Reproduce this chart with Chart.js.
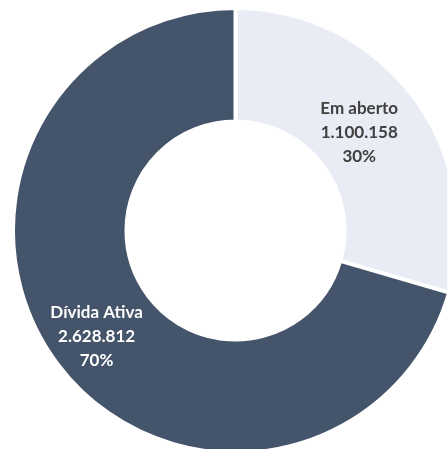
<!DOCTYPE html>
<html>
<head>
<meta charset="utf-8">
<script src="https://cdn.jsdelivr.net/npm/chart.js@4/dist/chart.umd.min.js"></script>
<style>
  html, body { margin: 0; padding: 0; background: #fff; overflow: hidden; }
  #wrap { width: 460px; height: 455px; position: relative; }
</style>
</head>
<body>
<div id="wrap"><canvas id="pieChart"></canvas></div>
<script>
// ===== Data =====
const categories = ['Em aberto', 'Dívida Ativa'];
const values = [1100158, 2628812];
const percentLabels = ['30%', '70%'];
const sliceColors = ['#E9EBF5', '#44546A'];
const textColors = ['#404040', '#FFFFFF'];

// pt-BR style thousands separator: 1.100.158
function formatNumber(n) {
    return String(n).replace(/\B(?=(\d{3})+(?!\d))/g, '.');
}

// draws the 3-line label inside each slice
const sliceLabels = {
    id: 'sliceLabels',
    afterDatasetsDraw(chart, args, opts) {
        const ctx = chart.ctx;
        const meta = chart.getDatasetMeta(0);
        meta.data.forEach(function(arc, i) {
            const p = arc.getProps(['x', 'y', 'startAngle', 'endAngle', 'innerRadius', 'outerRadius']);
            const mid = (p.startAngle + p.endAngle) / 2 + (opts.angleShift[i] || 0);
            const r = p.innerRadius + (p.outerRadius - p.innerRadius) * opts.radius[i];
            const cx = p.x + Math.cos(mid) * r;
            const cy = p.y + Math.sin(mid) * r + 2;
            const lines = [categories[i], formatNumber(values[i]), percentLabels[i]];
            ctx.save();
            ctx.font = 'bold 17px Lato';
            ctx.fillStyle = textColors[i];
            ctx.textAlign = 'center';
            ctx.textBaseline = 'middle';
            const lh = 24;
            for (let j = 0; j < lines.length; j++) {
                ctx.fillText(lines[j], cx, cy + (j - 1) * lh);
            }
            ctx.restore();
        });
    }
};

const ctx = document.getElementById('pieChart').getContext('2d');
const pieChart = new Chart(ctx, {
    type: 'doughnut',
    data: {
        labels: categories,
        datasets: [{
            data: values,
            backgroundColor: sliceColors,
            borderColor: '#FFFFFF',
            borderWidth: 4,
            hoverOffset: 0
        }]
    },
    options: {
        responsive: true,
        maintainAspectRatio: false,
        animation: false,
        cutout: '49%',
        layout: {
            padding: { left: 11, top: 6, right: 0, bottom: 0 }
        },
        plugins: {
            legend: { display: false },
            tooltip: { enabled: false },
            title: { display: false },
            sliceLabels: { radius: [0.44, 0.57], angleShift: [-0.035, 0] }
        }
    },
    plugins: [sliceLabels]
});
</script>
</body>
</html>
